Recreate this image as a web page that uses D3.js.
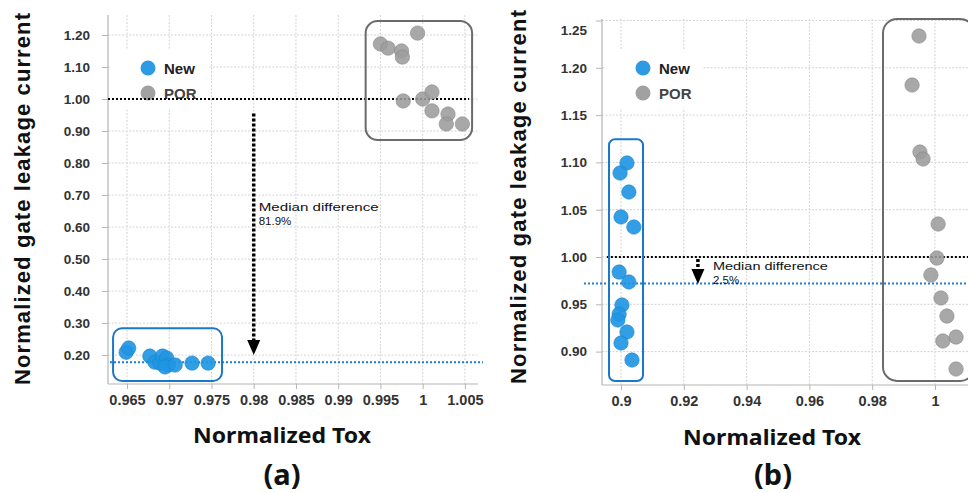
<!DOCTYPE html>
<html><head><meta charset="utf-8">
<script src="https://cdn.jsdelivr.net/npm/d3@7"></script>
<style>
html,body{margin:0;padding:0;background:#fff;}
svg{display:block;}
</style></head>
<body>
<svg id="chart" width="968" height="493"></svg>
<script>
// ---------- Panel (a) data ----------
const xTicksA = [0.965, 0.97, 0.975, 0.98, 0.985, 0.99, 0.995, 1, 1.005];
const xTickLabelsA = ["0.965","0.97","0.975","0.98","0.985","0.99","0.995","1","1.005"];
const yTicksA = [0.2, 0.3, 0.4, 0.5, 0.6, 0.7, 0.8, 0.9, 1.0, 1.1, 1.2];
const yTickLabelsA = ["0.20","0.30","0.40","0.50","0.60","0.70","0.80","0.90","1.00","1.10","1.20"];
const newAx = [0.9649, 0.9652, 0.9677, 0.9683, 0.9689, 0.9692, 0.9697, 0.9699, 0.9695, 0.9707, 0.9727, 0.9746];
const newAy = [0.209, 0.222, 0.197, 0.178, 0.175, 0.197, 0.191, 0.169, 0.163, 0.169, 0.175, 0.175];
const porAx = [0.9950, 0.9959, 0.9975, 0.9976, 0.9994, 0.9977, 1.0000, 1.0011, 1.0011, 1.0030, 1.0028, 1.0047];
const porAy = [1.172, 1.159, 1.150, 1.131, 1.206, 0.994, 1.000, 1.022, 0.963, 0.953, 0.922, 0.922];
const porMedianA = 1.00;
const newMedianA = 0.178;
const medianLabelA = ["Median difference", "81.9%"];

// ---------- Panel (b) data ----------
const xTicksB = [0.9, 0.92, 0.94, 0.96, 0.98, 1];
const xTickLabelsB = ["0.9","0.92","0.94","0.96","0.98","1"];
const yTicksB = [0.9, 0.95, 1.0, 1.05, 1.1, 1.15, 1.2, 1.25];
const yTickLabelsB = ["0.90","0.95","1.00","1.05","1.10","1.15","1.20","1.25"];
const newBx = [0.9019, 0.8997, 0.9025, 0.9000, 0.9041, 0.8994, 0.9025, 0.9003, 0.8994, 0.8990, 0.9019, 0.9000, 0.9035];
const newBy = [1.0994, 1.0888, 1.0687, 1.0423, 1.0317, 0.9841, 0.9736, 0.9493, 0.9397, 0.9334, 0.9207, 0.9091, 0.8911];
const porBx = [0.9949, 0.9927, 0.9952, 0.9962, 1.0010, 1.0006, 0.9987, 1.0019, 1.0038, 1.0067, 1.0025, 1.0067];
const porBy = [1.2336, 1.1818, 1.1110, 1.1036, 1.0349, 0.9989, 0.9810, 0.9567, 0.9376, 0.9154, 0.9112, 0.8816];
const porMedianB = 1.00;
const newMedianB = 0.972;
const medianLabelB = ["Median difference", "2.5%"];

const seriesNames = ["New", "POR"];
const panelLabels = ["(a)", "(b)"];
const xTitle = "Normalized Tox";
const yTitle = "Normalized gate leakage current";

const BLUE = "#2196e3", BLUE_STROKE = "#1a84cc", BLUE_LINE = "#1f7fcf";
const GRAY = "#9c9c9c", GRAY_STROKE = "#888";

const svg = d3.select("#chart");
const defs = svg.append("defs");

function panel(cfg) {
  const g = svg.append("g");
  const x = d3.scaleLinear().domain(cfg.xDomain).range([cfg.left, cfg.right]);
  const y = d3.scaleLinear().domain(cfg.yDomain).range([cfg.bottom, cfg.top]);
  const clipId = "clip" + cfg.id;
  defs.append("clipPath").attr("id", clipId).append("rect")
    .attr("x", cfg.left - 30).attr("y", cfg.top - 10)
    .attr("width", cfg.right - cfg.left + 60).attr("height", cfg.bottom - cfg.top + 20);

  // gridlines
  g.append("g").selectAll("line").data(cfg.xTicks).join("line")
    .attr("x1", d => x(d)).attr("x2", d => x(d))
    .attr("y1", cfg.top).attr("y2", cfg.bottom)
    .attr("stroke", "#d4d4d4").attr("stroke-width", 1).attr("stroke-dasharray", "2,1.5");
  g.append("g").selectAll("line").data(cfg.yTicks).join("line")
    .attr("x1", cfg.left).attr("x2", cfg.right)
    .attr("y1", d => y(d)).attr("y2", d => y(d))
    .attr("stroke", "#d4d4d4").attr("stroke-width", 1).attr("stroke-dasharray", "2,1.5");

  // axes
  const xAxis = d3.axisBottom(x).tickValues(cfg.xTicks).tickFormat((d,i) => cfg.xLabels[i]).tickSize(5).tickPadding(6);
  const yAxis = d3.axisLeft(y).tickValues(cfg.yTicks).tickFormat((d,i) => cfg.yLabels[i]).tickSize(6).tickPadding(cfg.yPad);
  const gx = g.append("g").attr("transform", `translate(0,${cfg.bottom})`).call(xAxis);
  const gy = g.append("g").attr("transform", `translate(${cfg.left},0)`).call(yAxis);
  [gx, gy].forEach(a => {
    a.select(".domain").attr("stroke", "#b5b5b5").attr("stroke-width", 1.2);
    a.selectAll(".tick line").attr("stroke", "#b5b5b5");
    a.selectAll("text").attr("fill", "#333").attr("font-family", "Liberation Sans, Arial, sans-serif").attr("font-weight", "bold");
  });
  gx.select(".domain").attr("d", `M${cfg.left},0H${cfg.right}`);
  gy.select(".domain").attr("d", `M0,${cfg.bottom}V${cfg.top}`);
  gx.selectAll("text").attr("font-size", 14.5);
  gy.selectAll("text").attr("font-size", 13.5);
  if (cfg.topLabelShift) gy.selectAll(".tick").filter(d => d === cfg.yTicks[cfg.yTicks.length-1]).select("text").attr("dy", "1.0em");

  // legend with white background
  g.append("rect").attr("x", cfg.legX - 38).attr("y", cfg.legY - 18)
    .attr("width", 98).attr("height", 58).attr("fill", "#fff");
  const leg = g.append("g");
  seriesNames.forEach((s, i) => {
    leg.append("circle").attr("cx", cfg.legX).attr("cy", cfg.legY + i * 25).attr("r", 7.5)
      .attr("fill", i === 0 ? BLUE : GRAY).attr("fill-opacity", 0.95);
    leg.append("text").attr("x", cfg.legX + 16).attr("y", cfg.legY + i * 25 + 5.5)
      .attr("font-family", "Liberation Sans, Arial, sans-serif").attr("font-size", 15)
      .attr("font-weight", "bold").attr("fill", i === 0 ? "#222" : "#444").text(s);
  });

  const plot = g.append("g").attr("clip-path", `url(#${clipId})`);

  // median lines
  plot.append("line").attr("x1", cfg.blackX0 != null ? x(cfg.blackX0) : cfg.left).attr("x2", cfg.blackX1 != null ? x(cfg.blackX1) : cfg.right + 5)
    .attr("y1", y(cfg.porMedian)).attr("y2", y(cfg.porMedian))
    .attr("stroke", "#000").attr("stroke-width", 2).attr("stroke-dasharray", "2,2");
  plot.append("line").attr("x1", cfg.blueX0).attr("x2", cfg.right + 5)
    .attr("y1", y(cfg.newMedian)).attr("y2", y(cfg.newMedian))
    .attr("stroke", BLUE_LINE).attr("stroke-width", 2).attr("stroke-dasharray", "2,2");

  // points
  plot.append("g").selectAll("circle").data(cfg.porX.map((v,i)=>[v,cfg.porY[i]])).join("circle")
    .attr("cx", d => x(d[0])).attr("cy", d => y(d[1])).attr("r", 7.2)
    .attr("fill", GRAY).attr("fill-opacity", 0.88).attr("stroke", GRAY_STROKE).attr("stroke-opacity", 0.6).attr("stroke-width", 1);
  plot.append("g").selectAll("circle").data(cfg.newX.map((v,i)=>[v,cfg.newY[i]])).join("circle")
    .attr("cx", d => x(d[0])).attr("cy", d => y(d[1])).attr("r", 7.2)
    .attr("fill", BLUE).attr("fill-opacity", 0.92).attr("stroke", BLUE_STROKE).attr("stroke-opacity", 0.6).attr("stroke-width", 1);

  // boxes
  cfg.boxes.forEach(b => {
    plot.append("rect").attr("x", x(b.x0)).attr("y", y(b.y1))
      .attr("width", x(b.x1) - x(b.x0)).attr("height", y(b.y0) - y(b.y1))
      .attr("rx", b.r).attr("ry", b.r).attr("fill", "none")
      .attr("stroke", b.c).attr("stroke-width", 2);
  });

  // arrow
  const ax = x(cfg.arrowX);
  g.append("line").attr("x1", ax).attr("x2", ax)
    .attr("y1", y(cfg.arrowY0)).attr("y2", y(cfg.arrowY1) - 15)
    .attr("stroke", "#000").attr("stroke-width", 3.5).attr("stroke-dasharray", "3,2");
  g.append("path").attr("d", `M${ax-6.5},${y(cfg.arrowY1)-15} L${ax+6.5},${y(cfg.arrowY1)-15} L${ax},${y(cfg.arrowY1)} Z`).attr("fill", "#000");
  cfg.medLabel.forEach((s, i) => {
    const t = g.append("text").attr("x", ax + cfg.labDx).attr("y", y(cfg.labY) + i * 13.5)
      .attr("font-family", "Liberation Sans, Arial, sans-serif").attr("font-size", 11.5).attr("fill", "#111").text(s);
    if (i === 0) t.attr("textLength", cfg.labLen).attr("lengthAdjust", "spacingAndGlyphs");
  });

  // titles
  g.append("text").attr("transform", `translate(${cfg.yTitleX},${cfg.yTitleY}) rotate(-90)`)
    .attr("text-anchor", "middle").attr("font-family", "Liberation Sans, Arial, sans-serif")
    .attr("font-size", 22).attr("font-weight", "bold").attr("fill", "#111")
    .attr("textLength", cfg.yTitleLen).attr("lengthAdjust", "spacing").text(yTitle);
  g.append("text").attr("x", cfg.xTitleX).attr("y", cfg.xTitleY).attr("text-anchor", "middle")
    .attr("font-family", "Noto Sans, Open Sans, sans-serif").attr("font-size", 21).attr("font-weight", "bold").attr("fill", "#111")
    .attr("textLength", cfg.xTitleLen).attr("lengthAdjust", "spacingAndGlyphs").text(xTitle);
  g.append("text").attr("x", cfg.pX).attr("y", 485).attr("text-anchor", "middle")
    .attr("font-family", "Noto Sans, Open Sans, sans-serif").attr("font-size", 29).attr("font-weight", "bold").attr("fill", "#111")
    .text(cfg.pLabel);
}

panel({
  id: "a", left: 108, right: 478, top: 15, bottom: 384,
  xDomain: [0.96275, 1.00655], yDomain: [0.1097, 1.2625],
  xTicks: xTicksA, xLabels: xTickLabelsA, yTicks: yTicksA, yLabels: yTickLabelsA, yPad: 12,
  newX: newAx, newY: newAy, porX: porAx, porY: porAy,
  porMedian: porMedianA, newMedian: newMedianA, blueX0: 110, blackX1: 1.0055,
  boxes: [
    {x0: 0.99325, x1: 1.00585, y0: 0.872, y1: 1.244, r: 12, c: "#6b6b6b"},
    {x0: 0.96335, x1: 0.97625, y0: 0.119, y1: 0.284, r: 9, c: "#1a78c8"}
  ],
  arrowX: 0.98, arrowY0: 0.955, arrowY1: 0.2, labDx: 5, labY: 0.650, labLen: 120, medLabel: medianLabelA,
  legX: 148, legY: 68,
  yTitleX: 30, yTitleY: 199, yTitleLen: 372,
  xTitleX: 282, xTitleY: 443, xTitleLen: 178, pX: 282, pLabel: panelLabels[0]
});

panel({
  id: "b", left: 602, right: 968, top: 19, bottom: 385,
  xDomain: [0.89395, 1.01051], yDomain: [0.8647, 1.2516],
  xTicks: xTicksB, xLabels: xTickLabelsB, yTicks: yTicksB, yLabels: yTickLabelsB, yPad: 9, topLabelShift: true,
  newX: newBx, newY: newBy, porX: porBx, porY: porBy,
  porMedian: porMedianB, newMedian: newMedianB, blueX0: 584, blackX0: 0.8955,
  boxes: [
    {x0: 0.98344, x1: 1.0125, y0: 0.869, y1: 1.2516, r: 14, c: "#6b6b6b"},
    {x0: 0.89618, x1: 0.90701, y0: 0.869, y1: 1.1245, r: 6, c: "#1a78c8"}
  ],
  arrowX: 0.9245, arrowY0: 0.998, arrowY1: 0.9715, labDx: 15, labY: 0.986, labLen: 115, medLabel: medianLabelB,
  legX: 643, legY: 68,
  yTitleX: 526, yTitleY: 197, yTitleLen: 374,
  xTitleX: 772, xTitleY: 445, xTitleLen: 178, pX: 773, pLabel: panelLabels[1]
});
</script>
</body></html>
